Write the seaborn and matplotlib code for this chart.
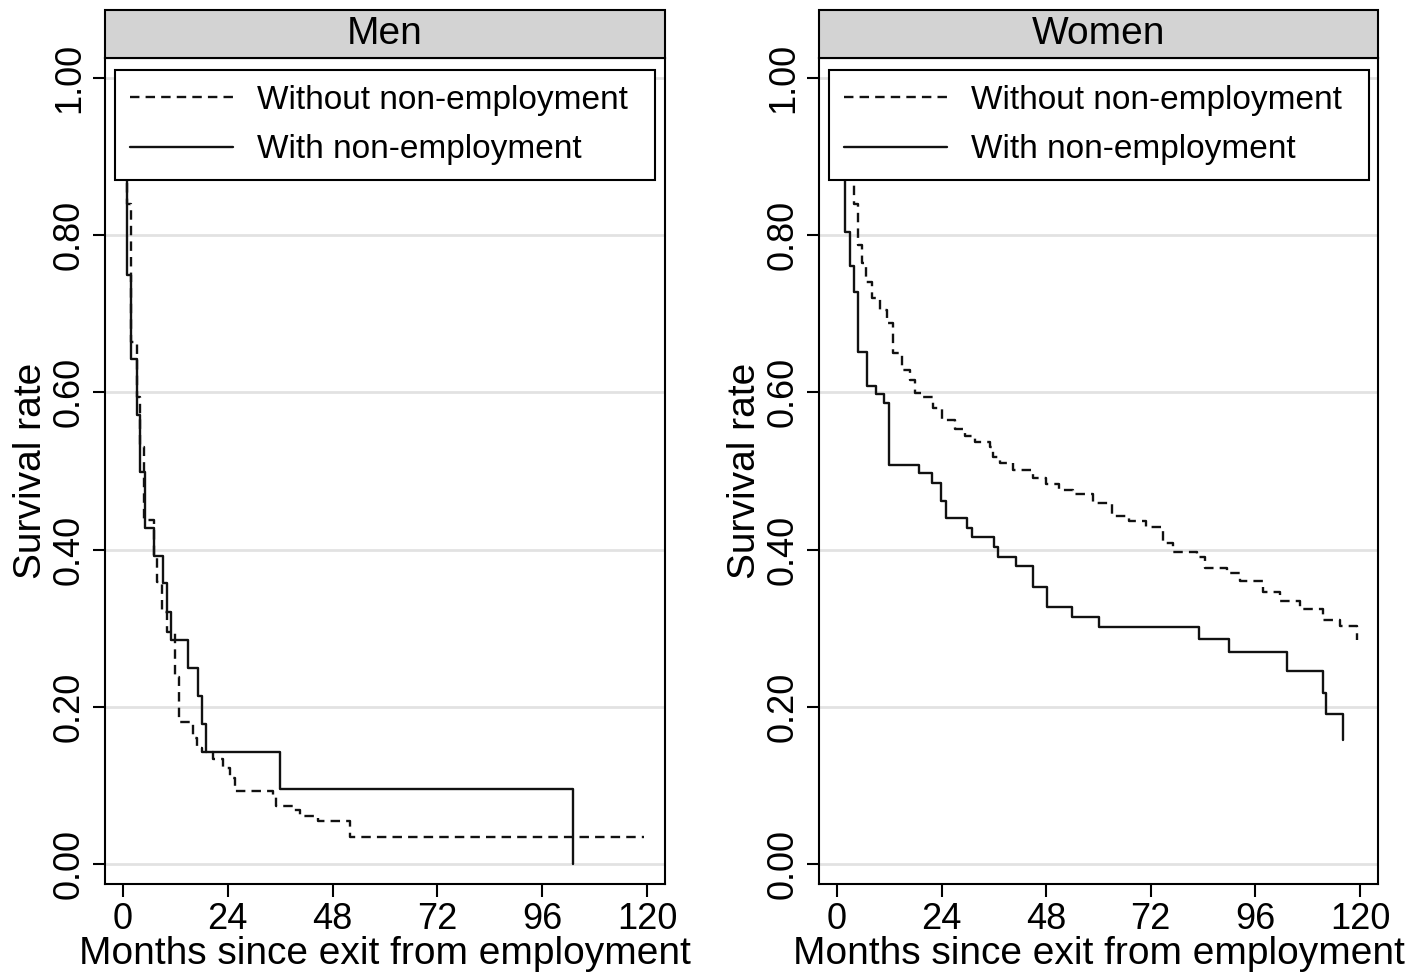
import numpy as np
import pandas as pd
import matplotlib
matplotlib.use('Agg')
import matplotlib.pyplot as plt
from matplotlib.patches import Rectangle
import seaborn as sns

# step points: (month at which the curve drops, value after the drop)
men_with_t = [0, 1.0, 1.8, 3.1, 4.0, 5.0, 7.1, 9.1, 10.0, 11.0, 15.0, 17.1, 18.0, 19.0, 36.0, 103.1]
men_with_s = [1.0, 0.749, 0.642, 0.571, 0.499, 0.428, 0.392, 0.357, 0.321, 0.285, 0.249, 0.214, 0.178,
              0.142, 0.095, 0.0]

men_without_t = [0, 1.0, 1.8, 3.1, 4.0, 4.8, 7.1, 7.9, 9.0, 10.0, 12.0, 12.8, 16.1, 17.0, 18.0, 20.7,
                 23.0, 24.5, 25.6, 34.4, 35.0, 39.0, 40.5, 44.7, 52.0, 119.2]
men_without_s = [1.0, 0.84, 0.664, 0.594, 0.531, 0.438, 0.391, 0.359, 0.321, 0.295, 0.238, 0.181, 0.16,
                 0.147, 0.143, 0.134, 0.122, 0.109, 0.093, 0.086, 0.074, 0.069, 0.061, 0.055, 0.035, 0.035]

women_with_t = [0, 1.8, 3.0, 3.9, 4.9, 7.0, 8.9, 10.9, 11.9, 18.9, 21.9, 23.9, 25.0, 29.9, 31.0, 36.0,
                37.0, 41.1, 44.9, 48.1, 54.0, 60.0, 83.0, 90.0, 103.2, 111.4, 112.2, 116.2]
women_with_s = [1.0, 0.804, 0.761, 0.728, 0.652, 0.608, 0.598, 0.586, 0.508, 0.497, 0.485, 0.462, 0.44,
                0.427, 0.416, 0.403, 0.391, 0.379, 0.353, 0.327, 0.314, 0.301, 0.286, 0.27, 0.245, 0.218,
                0.191, 0.158]

women_without_t = [0, 2.8, 3.8, 4.8, 5.8, 6.6, 8.0, 9.9, 11.4, 12.9, 14.9, 16.7, 17.9, 19.8, 22.0, 24.0,
                   27.0, 29.3, 31.6, 35.0, 35.8, 37.4, 40.4, 45.0, 48.0, 51.0, 54.2, 58.8, 63.0, 67.0, 71.0,
                   74.9, 77.2, 82.5, 84.4, 89.4, 92.5, 97.8, 101.7, 106.3, 111.6, 115.4, 119.2]
women_without_s = [1.0, 0.90, 0.84, 0.787, 0.764, 0.74, 0.72, 0.705, 0.688, 0.65, 0.628, 0.616, 0.599,
                   0.594, 0.58, 0.565, 0.554, 0.545, 0.537, 0.531, 0.518, 0.51, 0.501, 0.491, 0.484, 0.476,
                   0.471, 0.459, 0.443, 0.436, 0.429, 0.408, 0.397, 0.391, 0.376, 0.37, 0.36, 0.346, 0.334,
                   0.325, 0.31, 0.303, 0.285]

panels = ['Men', 'Women']
groups = ['Without non-employment', 'With non-employment']
x_ticks = [0, 24, 48, 72, 96, 120]
y_ticks = [0.0, 0.2, 0.4, 0.6, 0.8, 1.0]

curves = {
    ('Men', groups[0]): (men_without_t, men_without_s),
    ('Men', groups[1]): (men_with_t, men_with_s),
    ('Women', groups[0]): (women_without_t, women_without_s),
    ('Women', groups[1]): (women_with_t, women_with_s),
}
frames = []
for (sex, grp), (t, s) in curves.items():
    frames.append(pd.DataFrame({'month': t, 'survival': s, 'sex': sex, 'group': grp}))
df = pd.concat(frames, ignore_index=True)

sns.set_style('white')
plt.rcParams['font.family'] = ['Liberation Sans', 'DejaVu Sans']
plt.rcParams['text.color'] = 'black'
plt.rcParams['axes.labelcolor'] = 'black'
plt.rcParams['xtick.color'] = 'black'
plt.rcParams['ytick.color'] = 'black'

W, H = 1410, 973
fig = plt.figure(figsize=(W / 100, H / 100), dpi=100)

line_col = '#111111'
styles = {groups[0]: (0, (4, 2.6)), groups[1]: '-'}

lefts = [105, 819]
widths = [560, 559]
top_px, bottom_px = 58, 884
strip_h = 48

for i, sex in enumerate(panels):
    ax = fig.add_axes([lefts[i] / W, (H - bottom_px) / H, widths[i] / W, (bottom_px - top_px) / H])
    sub = df[df.sex == sex]
    for grp in groups:
        d = sub[sub.group == grp]
        sns.lineplot(data=d, x='month', y='survival', ax=ax, estimator=None, sort=False,
                     drawstyle='steps-post', color=line_col, lw=1.7, linestyle=styles[grp],
                     legend=False, label=grp, zorder=3)

    ax.set_xlim(-4.12, 124.12)
    ax.set_ylim(-0.0254, 1.0254)
    ax.set_xticks(x_ticks)
    ax.set_yticks(y_ticks)
    ax.set_yticklabels([f'{v:.2f}' for v in y_ticks], rotation=90, va='center')
    for v in y_ticks:
        ax.axhline(v, color='#e2e2e2', lw=2, zorder=1)
    ax.tick_params(axis='both', direction='out', length=9, width=1.5, color='black',
                   labelsize=26, pad=4, bottom=True, left=True)
    for sp in ax.spines.values():
        sp.set_color('black')
        sp.set_linewidth(1.5)
    ax.set_xlabel('Months since exit from employment', fontsize=28, labelpad=-1)
    ax.set_ylabel('Survival rate', fontsize=28, labelpad=2)

    # strip header
    h = strip_h / (bottom_px - top_px)
    ax.add_patch(Rectangle((0, 1), 1, h, transform=ax.transAxes, facecolor='#d3d3d3',
                           edgecolor='black', lw=1.5, clip_on=False, zorder=5))
    ax.text(0.5, 1 + h / 2, sex, transform=ax.transAxes, ha='center', va='center', fontsize=28,
            zorder=6)

    handles = ax.get_lines()[:2]
    leg = ax.legend(handles, groups, loc='upper left',
                    bbox_to_anchor=(10 / widths[i], 1 - 12 / (bottom_px - top_px), 540 / widths[i], 0),
                    mode='expand', fontsize=24, frameon=True, fancybox=False, framealpha=1,
                    edgecolor='black', handlelength=3.1, handletextpad=0.7, borderpad=0.45,
                    labelspacing=0.55, borderaxespad=0)
    leg.get_frame().set_linewidth(1.5)

fig.savefig('out.png', dpi=100)
